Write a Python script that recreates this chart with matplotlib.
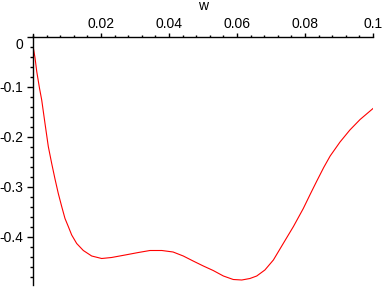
import numpy as np
import matplotlib.pyplot as plt
from matplotlib.ticker import MultipleLocator
from matplotlib.transforms import ScaledTranslation

plt.rcParams['font.family'] = ['Liberation Sans', 'DejaVu Sans']

# curve
w = [0.0, 0.0001, 0.0006, 0.0011, 0.0019, 0.00256, 0.00353, 0.0045, 0.0055,
     0.00647, 0.00744, 0.00844, 0.00941, 0.01038, 0.01138, 0.01285, 0.0148,
     0.01726, 0.0202, 0.0231, 0.0271, 0.0310, 0.0344, 0.0379, 0.0412, 0.0442,
     0.0471, 0.0501, 0.0530, 0.0560, 0.0589, 0.0614, 0.0638, 0.0658, 0.0682,
     0.0707, 0.0736, 0.0766, 0.0795, 0.0815, 0.0834, 0.0855, 0.0874, 0.0903,
     0.0932, 0.0962, 0.1]
val = [0.0, -0.022, -0.042, -0.069, -0.102, -0.126, -0.173, -0.219, -0.253,
       -0.284, -0.313, -0.339, -0.363, -0.379, -0.396, -0.413, -0.427,
       -0.438, -0.443, -0.441, -0.436, -0.431, -0.427, -0.427, -0.430, -0.438,
       -0.448, -0.458, -0.467, -0.478, -0.485, -0.486, -0.483, -0.478, -0.466,
       -0.446, -0.413, -0.379, -0.343, -0.315, -0.289, -0.261, -0.238, -0.210,
       -0.186, -0.165, -0.143]

xticks = [0.02, 0.04, 0.06, 0.08, 0.1]
xlabels = ['0.02', '0.04', '0.06', '0.08', '0.1']
yticks = [0, -0.1, -0.2, -0.3, -0.4]
ylabels = ['0', '-0.1', '-0.2', '-0.3', '-0.4']

fig = plt.figure(figsize=(3.88, 2.88), dpi=100)
ax = fig.add_axes([33/388, 1-285/288, 340/388, 248/288])
ax.plot(w, val, color='red', lw=0.8)
ax.set_xlim(0, 0.1)
ax.set_ylim(-0.496, 0)

ax.spines['bottom'].set_visible(False)
ax.spines['right'].set_visible(False)
for s in ('top', 'left'):
    ax.spines[s].set_linewidth(1)
ax.spines['left'].set_bounds(-0.496, 0.006)

ax.xaxis.tick_top()
ax.xaxis.set_label_position('top')
ax.set_xticks(xticks, xlabels)
ax.xaxis.set_minor_locator(MultipleLocator(0.004))
ax.set_yticks(yticks, ylabels)
ax.yaxis.set_minor_locator(MultipleLocator(0.02))
ax.tick_params(axis='x', which='major', direction='out', length=3, width=1, labelsize=10, pad=1)
ax.tick_params(axis='x', which='minor', direction='out', length=1.5, width=1)
ax.tick_params(axis='y', which='major', direction='out', length=4, width=1, labelsize=10, pad=3)
ax.tick_params(axis='y', which='minor', direction='out', length=2.5, width=1)
ax.set_xlabel('w', fontsize=10, labelpad=5)

# the 0 label sits a little below the axis
lab0 = ax.get_yticklabels()[0]
lab0.set_transform(lab0.get_transform() + ScaledTranslation(0, -5/72, fig.dpi_scale_trans))

plt.savefig('out.png', dpi=100)
